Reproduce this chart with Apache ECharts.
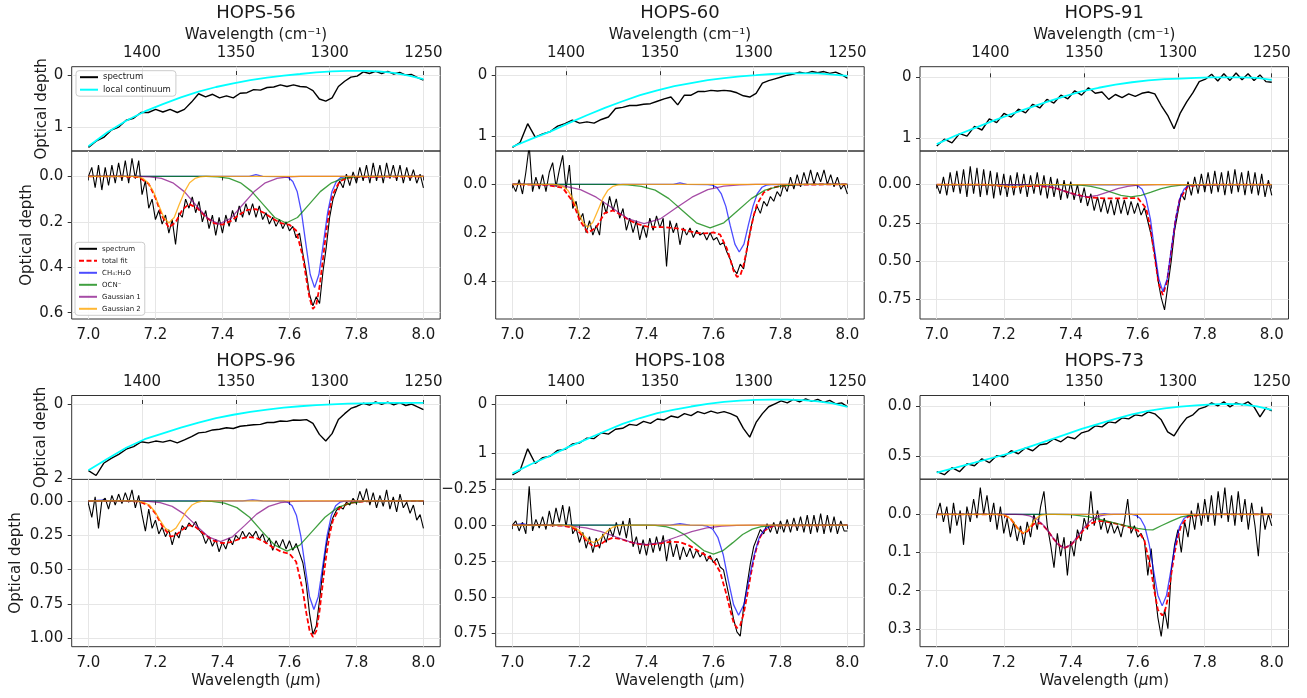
<!DOCTYPE html>
<html><head><meta charset="utf-8">
<script src="https://cdn.jsdelivr.net/npm/echarts@6/dist/echarts.min.js"></script>
<style>html,body{margin:0;padding:0;background:#fff}#c{width:1307px;height:698px}</style>
</head><body><div id="c"></div>
<script>
// ---------- x grids (micron) ----------
const wl = [7.00,7.01,7.02,7.03,7.04,7.05,7.06,7.07,7.08,7.09,
7.10,7.11,7.12,7.13,7.14,7.15,7.16,7.17,7.18,7.19,
7.20,7.21,7.22,7.23,7.24,7.25,7.26,7.27,7.28,7.29,
7.30,7.31,7.32,7.33,7.34,7.35,7.36,7.37,7.38,7.39,
7.40,7.41,7.42,7.43,7.44,7.45,7.46,7.47,7.48,7.49,
7.50,7.51,7.52,7.53,7.54,7.55,7.56,7.57,7.58,7.59,
7.60,7.61,7.62,7.63,7.64,7.65,7.66,7.67,7.68,7.69,
7.70,7.71,7.72,7.73,7.74,7.75,7.76,7.77,7.78,7.79,
7.80,7.81,7.82,7.83,7.84,7.85,7.86,7.87,7.88,7.89,
7.90,7.91,7.92,7.93,7.94,7.95,7.96,7.97,7.98,7.99,8.00];
const wlTop = [7.00,7.02,7.04,7.06,7.08,7.10,7.12,7.14,7.16,7.18,
7.20,7.22,7.24,7.26,7.28,7.30,7.32,7.34,7.36,7.38,
7.40,7.42,7.44,7.46,7.48,7.50,7.52,7.54,7.56,7.58,
7.60,7.62,7.64,7.66,7.68,7.70,7.72,7.74,7.76,7.78,
7.80,7.82,7.84,7.86,7.88,7.90,7.92,7.94,7.96,7.98,8.00];
const wlCont = [7.00,7.05,7.10,7.15,7.20,7.25,7.30,7.35,7.40,7.45,7.50,7.55,7.60,7.65,7.70,7.75,7.80,7.85,7.90,7.95,8.00];

// ---------- tick labels ----------
const cmTicks = [1250,1300,1350,1400];
const umTicks = [7.0,7.2,7.4,7.6,7.8,8.0];
const tk56Top=[0,1], tk56Bot=[0,0.2,0.4,0.6];
const tk60Top=[0,1], tk60Bot=[0,0.2,0.4];
const tk91Top=[0,1], tk91Bot=[0,0.25,0.5,0.75];
const tk96Top=[0,2], tk96Bot=[0,0.25,0.5,0.75,1.0];
const tk108Top=[0,1], tk108Bot=[-0.25,0,0.25,0.5,0.75];
const tk73Top=[0,0.5], tk73Bot=[0,0.1,0.2,0.3];

// ---------- HOPS-56 ----------
const p56_top = [1.39,1.27,1.20,1.06,1.00,0.87,0.83,0.72,0.72,0.66,
0.71,0.66,0.72,0.66,0.52,0.36,0.42,0.37,0.44,0.40,
0.44,0.35,0.34,0.28,0.29,0.24,0.23,0.19,0.22,0.19,
0.22,0.23,0.30,0.46,0.50,0.44,0.22,0.12,0.04,0.02,
-0.06,-0.03,-0.07,-0.03,-0.07,-0.02,-0.05,0.00,-0.01,0.05,0.10];
const p56_cont = [1.37,1.10,0.88,0.70,0.56,0.43,0.32,0.23,0.16,0.10,0.05,0.01,-0.02,-0.05,-0.07,-0.08,-0.08,-0.07,-0.04,0.01,0.08];
const p56_spec = [0.00,-0.04,0.05,-0.05,0.06,-0.04,0.04,-0.05,0.03,-0.06,
0.02,-0.07,0.03,-0.08,0.01,-0.07,0.08,0.02,0.14,0.10,
0.19,0.15,0.21,0.17,0.25,0.19,0.30,0.16,0.18,0.10,
0.14,0.09,0.16,0.11,0.20,0.15,0.23,0.17,0.26,0.18,
0.25,0.17,0.22,0.15,0.20,0.13,0.18,0.12,0.17,0.12,
0.18,0.13,0.19,0.16,0.21,0.18,0.22,0.19,0.23,0.20,
0.24,0.22,0.27,0.25,0.34,0.42,0.52,0.57,0.53,0.56,
0.42,0.31,0.18,0.10,0.06,0.02,0.05,-0.01,0.04,-0.02,
0.03,-0.04,0.02,-0.05,0.03,-0.06,0.02,-0.05,0.03,-0.06,
0.01,-0.05,0.02,-0.05,0.03,-0.04,0.02,-0.03,0.03,-0.01,0.05];
const p56_fit = [[7,0],[7.1,0],[7.15,0.003],[7.18,0.033],[7.2,0.094],[7.22,0.176],[7.24,0.225],[7.26,0.202],[7.28,0.148],[7.3,0.121],[7.325,0.14],[7.35,0.178],[7.375,0.206],[7.4,0.212],[7.425,0.196],[7.45,0.169],[7.475,0.147],[7.5,0.144],[7.525,0.161],[7.55,0.186],[7.575,0.206],[7.6,0.213],[7.62,0.238],[7.64,0.354],[7.65,0.448],[7.66,0.536],[7.67,0.584],[7.675,0.584],[7.68,0.566],[7.69,0.485],[7.7,0.364],[7.71,0.241],[7.72,0.142],[7.73,0.077],[7.75,0.021],[7.775,0.006],[7.8,0.002],[8,0]];
const p56_ch4 = [[7,0],[7.48,0],[7.5,-0.008],[7.52,0],[7.584,0.001],[7.597,0.005],[7.61,0.022],[7.623,0.066],[7.636,0.159],[7.649,0.297],[7.662,0.432],[7.675,0.49],[7.688,0.432],[7.701,0.297],[7.714,0.159],[7.727,0.066],[7.74,0.022],[7.753,0.005],[7.766,0.001],[8,0]];
const p56_ocn = [[7,0],[7.352,0],[7.386,0.002],[7.42,0.009],[7.454,0.028],[7.488,0.067],[7.522,0.124],[7.556,0.181],[7.59,0.205],[7.624,0.181],[7.658,0.124],[7.692,0.067],[7.726,0.028],[7.76,0.009],[7.794,0.002],[7.828,0],[8,0]];
const p56_g1 = [[7,0],[7.149,0],[7.183,0.002],[7.218,0.009],[7.252,0.028],[7.287,0.068],[7.321,0.127],[7.356,0.185],[7.39,0.21],[7.425,0.185],[7.459,0.127],[7.494,0.068],[7.528,0.028],[7.563,0.009],[7.597,0.002],[7.632,0],[8,0]];
const p56_g2 = [[7,0],[7.131,0],[7.147,0.002],[7.163,0.009],[7.178,0.028],[7.194,0.067],[7.209,0.124],[7.225,0.181],[7.24,0.205],[7.256,0.181],[7.271,0.124],[7.287,0.067],[7.302,0.028],[7.318,0.009],[7.333,0.002],[7.349,0],[8,0]];

// ---------- HOPS-60 ----------
const p60_top = [1.19,1.11,0.80,1.02,0.97,0.93,0.84,0.80,0.74,0.79,
0.77,0.79,0.73,0.69,0.55,0.53,0.50,0.50,0.48,0.47,
0.43,0.39,0.36,0.49,0.33,0.33,0.27,0.27,0.25,0.26,
0.25,0.26,0.29,0.34,0.36,0.30,0.13,0.09,0.06,0.03,
0.00,-0.02,-0.05,-0.03,-0.06,-0.04,-0.06,-0.03,-0.05,-0.01,0.05];
const p60_cont = [1.18,1.05,0.93,0.79,0.66,0.54,0.43,0.33,0.25,0.18,0.13,0.08,0.05,0.02,0.00,-0.02,-0.03,-0.03,-0.03,-0.01,0.01];
const p60_spec = [0.00,0.03,-0.02,0.04,-0.05,-0.16,0.03,-0.03,0.02,-0.04,
0.03,-0.05,-0.09,0.01,-0.06,-0.12,0.02,-0.08,0.10,0.07,
0.15,0.12,0.20,0.15,0.21,0.17,0.21,0.07,0.12,0.05,
0.11,0.06,0.14,0.10,0.19,0.14,0.20,0.15,0.23,0.17,
0.22,0.14,0.19,0.13,0.18,0.14,0.34,0.15,0.20,0.16,
0.25,0.18,0.21,0.18,0.22,0.19,0.21,0.20,0.23,0.20,
0.23,0.22,0.25,0.24,0.28,0.31,0.35,0.37,0.33,0.35,
0.27,0.19,0.13,0.09,0.12,0.07,0.09,0.05,0.07,0.03,
0.05,0.00,0.03,-0.03,0.02,-0.04,0.01,-0.05,0.00,-0.06,
0.00,-0.05,-0.01,-0.06,0.00,-0.04,0.01,-0.03,0.02,0.00,0.04];
const p60_fit = [[7,0],[7.1,0.002],[7.15,0.014],[7.18,0.071],[7.2,0.147],[7.225,0.2],[7.25,0.179],[7.275,0.119],[7.3,0.108],[7.325,0.127],[7.35,0.149],[7.375,0.165],[7.4,0.174],[7.425,0.177],[7.45,0.177],[7.475,0.18],[7.5,0.184],[7.525,0.193],[7.55,0.201],[7.575,0.203],[7.6,0.199],[7.62,0.208],[7.64,0.265],[7.65,0.31],[7.66,0.357],[7.67,0.383],[7.68,0.377],[7.69,0.334],[7.7,0.268],[7.71,0.195],[7.72,0.13],[7.73,0.083],[7.75,0.034],[7.775,0.014],[7.8,0.007],[7.85,0.001],[8,0]];
const p60_ch4 = [[7,0],[7.48,0],[7.5,-0.006],[7.52,0],[7.583,0.001],[7.596,0.003],[7.61,0.012],[7.623,0.038],[7.637,0.091],[7.65,0.17],[7.664,0.247],[7.677,0.28],[7.691,0.247],[7.704,0.17],[7.718,0.091],[7.731,0.038],[7.745,0.012],[7.758,0.003],[7.772,0.001],[8,0]];
const p60_ocn = [[7,0],[7.303,0],[7.344,0.002],[7.385,0.008],[7.426,0.024],[7.467,0.059],[7.508,0.109],[7.549,0.159],[7.59,0.18],[7.631,0.159],[7.672,0.109],[7.713,0.059],[7.754,0.024],[7.795,0.008],[7.836,0.002],[7.877,0],[8,0]];
const p60_g1 = [[7,0],[7.06,0],[7.108,0.002],[7.155,0.007],[7.203,0.022],[7.25,0.053],[7.298,0.098],[7.346,0.143],[7.393,0.162],[7.441,0.143],[7.488,0.098],[7.536,0.053],[7.583,0.022],[7.631,0.007],[7.678,0.002],[7.726,0],[8,0]];
const p60_g2 = [[7,0],[7.12,0],[7.135,0.002],[7.15,0.008],[7.165,0.024],[7.18,0.058],[7.195,0.108],[7.21,0.157],[7.225,0.178],[7.24,0.157],[7.255,0.108],[7.27,0.058],[7.285,0.024],[7.3,0.008],[7.315,0.002],[7.33,0],[8,0]];

// ---------- HOPS-91 ----------
const p91_top = [1.12,1.01,1.07,0.92,0.96,0.80,0.86,0.68,0.74,0.59,
0.65,0.52,0.58,0.44,0.50,0.36,0.42,0.29,0.35,0.22,
0.29,0.17,0.26,0.24,0.36,0.28,0.33,0.27,0.31,0.26,
0.24,0.27,0.46,0.62,0.84,0.58,0.40,0.25,0.07,0.03,
-0.05,0.06,-0.06,0.05,-0.07,0.04,-0.06,0.05,-0.04,0.07,0.08];
const p91_cont = [1.09,0.95,0.83,0.71,0.60,0.50,0.40,0.31,0.23,0.17,0.12,0.08,0.05,0.03,0.02,0.01,0.00,0.00,0.00,0.01,0.04];
const p91_spec = [0.00,0.06,-0.05,0.07,-0.08,0.05,-0.09,0.06,-0.10,0.08,
-0.12,0.06,-0.11,0.08,-0.10,0.07,-0.09,0.09,-0.08,0.07,
-0.07,0.08,-0.06,0.07,-0.08,0.06,-0.07,0.08,-0.06,0.06,
-0.08,0.07,-0.06,0.09,-0.05,0.08,-0.04,0.10,-0.03,0.09,
-0.02,0.10,0.00,0.12,0.02,0.14,0.06,0.17,0.08,0.18,
0.09,0.19,0.10,0.20,0.09,0.19,0.10,0.20,0.11,0.19,
0.12,0.20,0.15,0.24,0.33,0.45,0.62,0.74,0.82,0.66,
0.50,0.30,0.18,0.06,0.10,-0.02,0.07,-0.05,0.06,-0.07,
0.05,-0.08,0.06,-0.09,0.05,-0.08,0.07,-0.09,0.06,-0.10,
0.05,-0.08,0.07,-0.09,0.06,-0.08,0.07,-0.07,0.08,-0.03,0.07];
const p91_fit = [[7,0],[7.15,0.001],[7.2,0.01],[7.23,0.016],[7.26,0.011],[7.3,0.008],[7.35,0.02],[7.4,0.056],[7.45,0.082],[7.5,0.09],[7.55,0.09],[7.6,0.088],[7.625,0.155],[7.6375,0.278],[7.65,0.465],[7.6625,0.648],[7.675,0.723],[7.6875,0.633],[7.7,0.436],[7.7125,0.235],[7.725,0.099],[7.75,0.009],[7.8,0.001],[8,0]];
const p91_ch4 = [[7,0],[7.588,0.001],[7.6,0.008],[7.613,0.031],[7.625,0.095],[7.638,0.228],[7.65,0.425],[7.663,0.617],[7.675,0.7],[7.688,0.617],[7.7,0.425],[7.713,0.228],[7.725,0.095],[7.738,0.031],[7.75,0.008],[7.763,0.001],[8,0]];
const p91_ocn = [[7,0],[7.37,0],[7.4,0.001],[7.43,0.004],[7.46,0.011],[7.49,0.026],[7.52,0.049],[7.55,0.071],[7.58,0.08],[7.61,0.071],[7.64,0.049],[7.67,0.026],[7.7,0.011],[7.73,0.004],[7.76,0.001],[7.79,0],[8,0]];
const p91_g1 = [[7,0],[7.24,0],[7.27,0.001],[7.3,0.004],[7.33,0.011],[7.36,0.026],[7.39,0.049],[7.42,0.071],[7.45,0.08],[7.48,0.071],[7.51,0.049],[7.54,0.026],[7.57,0.011],[7.6,0.004],[7.63,0.001],[7.66,0],[8,0]];
const p91_g2 = [[7,0],[7.14,0],[7.155,0.001],[7.17,0.002],[7.185,0.005],[7.2,0.009],[7.215,0.013],[7.23,0.015],[7.245,0.013],[7.26,0.009],[7.275,0.005],[7.29,0.002],[7.305,0.001],[7.32,0],[8,0]];

// ---------- HOPS-96 ----------
const p96_top = [1.80,1.93,1.60,1.47,1.36,1.22,1.15,1.02,1.05,1.00,
1.03,0.98,1.05,0.97,0.88,0.78,0.76,0.70,0.68,0.64,
0.66,0.60,0.58,0.56,0.55,0.50,0.50,0.46,0.47,0.43,
0.44,0.42,0.52,0.82,1.00,0.80,0.42,0.26,0.12,0.06,
-0.02,0.03,-0.06,0.01,-0.05,0.02,-0.04,0.04,0.00,0.08,0.15];
const p96_cont = [1.79,1.48,1.18,0.95,0.79,0.64,0.50,0.38,0.29,0.21,0.15,0.10,0.06,0.03,0.01,-0.01,-0.02,-0.03,-0.03,-0.03,-0.03];
const p96_spec = [0.02,0.12,-0.03,0.20,0.00,-0.02,0.06,-0.04,0.03,-0.05,
0.02,-0.06,0.01,-0.08,0.05,-0.04,0.10,0.22,0.06,0.20,
0.14,0.24,0.19,0.26,0.21,0.32,0.23,0.27,0.18,0.21,
0.16,0.19,0.15,0.21,0.24,0.31,0.26,0.33,0.28,0.37,
0.30,0.35,0.27,0.32,0.25,0.28,0.22,0.27,0.23,0.26,
0.22,0.28,0.24,0.31,0.27,0.36,0.29,0.34,0.28,0.35,
0.29,0.36,0.31,0.38,0.45,0.60,0.82,0.97,0.91,0.72,
0.50,0.32,0.20,0.12,0.07,0.04,0.06,0.01,0.03,-0.02,
0.02,-0.07,0.00,-0.09,0.03,-0.06,0.05,-0.04,0.04,-0.08,
0.06,-0.03,0.08,-0.05,0.05,0.01,0.09,0.03,0.14,0.10,0.20];
const p96_fit = [[7,0],[7.1,0],[7.15,0.004],[7.18,0.033],[7.2,0.091],[7.22,0.182],[7.245,0.26],[7.26,0.252],[7.28,0.209],[7.3,0.177],[7.32,0.191],[7.35,0.25],[7.375,0.291],[7.4,0.308],[7.425,0.3],[7.45,0.278],[7.475,0.263],[7.5,0.269],[7.525,0.297],[7.55,0.338],[7.575,0.369],[7.6,0.384],[7.62,0.443],[7.64,0.653],[7.65,0.811],[7.66,0.942],[7.67,0.99],[7.675,0.985],[7.68,0.948],[7.69,0.798],[7.7,0.589],[7.71,0.396],[7.72,0.242],[7.73,0.14],[7.75,0.051],[7.775,0.019],[7.8,0.008],[7.85,0.001],[8,0]];
const p96_ch4 = [[7,0],[7.04,-0.006],[7.06,0],[7.46,0],[7.49,-0.008],[7.52,0],[7.582,0.002],[7.595,0.009],[7.608,0.035],[7.621,0.107],[7.634,0.257],[7.647,0.48],[7.66,0.697],[7.673,0.79],[7.686,0.697],[7.699,0.48],[7.712,0.257],[7.725,0.107],[7.738,0.035],[7.751,0.009],[7.764,0.002],[8,0]];
const p96_ocn = [[7,0],[7.331,0.001],[7.368,0.004],[7.406,0.016],[7.443,0.049],[7.481,0.119],[7.518,0.222],[7.556,0.322],[7.593,0.365],[7.631,0.322],[7.668,0.222],[7.706,0.119],[7.743,0.049],[7.781,0.016],[7.818,0.004],[7.856,0.001],[8,0]];
const p96_g1 = [[7,0],[7.142,0.001],[7.178,0.003],[7.214,0.013],[7.25,0.04],[7.286,0.096],[7.322,0.18],[7.358,0.261],[7.394,0.296],[7.43,0.261],[7.466,0.18],[7.502,0.096],[7.538,0.04],[7.574,0.013],[7.61,0.003],[7.646,0.001],[8,0]];
const p96_g2 = [[7,0],[7.133,0],[7.149,0.002],[7.165,0.01],[7.181,0.03],[7.197,0.073],[7.213,0.137],[7.229,0.198],[7.245,0.225],[7.261,0.198],[7.277,0.137],[7.293,0.073],[7.309,0.03],[7.325,0.01],[7.341,0.002],[7.357,0],[8,0]];

// ---------- HOPS-108 ----------
const p108_top = [1.45,1.36,0.92,1.22,1.10,1.07,0.95,0.93,0.82,0.80,
0.70,0.71,0.59,0.62,0.52,0.50,0.42,0.44,0.36,0.40,
0.31,0.33,0.25,0.28,0.20,0.24,0.16,0.20,0.15,0.19,
0.16,0.20,0.26,0.50,0.68,0.38,0.20,0.06,0.00,-0.06,
-0.02,-0.09,-0.04,-0.10,-0.05,-0.09,-0.03,-0.07,0.00,-0.02,0.06];
const p108_cont = [1.42,1.23,1.06,0.88,0.72,0.56,0.41,0.29,0.19,0.12,0.055,0.00,-0.04,-0.065,-0.08,-0.085,-0.085,-0.075,-0.05,-0.01,0.06];
const p108_spec = [0.00,-0.03,0.04,-0.02,0.06,-0.27,0.04,-0.04,0.02,-0.06,
0.03,-0.10,0.01,-0.12,-0.02,-0.14,0.01,-0.13,0.06,0.02,
0.12,0.05,0.16,0.08,0.19,0.09,0.16,0.06,0.12,0.02,
0.08,-0.02,0.07,-0.03,0.09,-0.05,0.15,0.08,0.20,0.10,
0.21,0.09,0.19,0.08,0.18,0.07,0.25,0.10,0.22,0.13,
0.24,0.15,0.22,0.16,0.23,0.17,0.22,0.19,0.25,0.21,
0.26,0.23,0.29,0.31,0.42,0.53,0.65,0.74,0.77,0.57,
0.42,0.27,0.15,0.09,0.03,0.06,-0.01,0.05,-0.02,0.06,
-0.03,0.05,-0.04,0.05,-0.05,0.04,-0.06,0.05,-0.07,0.06,
-0.07,0.05,-0.08,0.06,-0.07,0.05,-0.06,0.06,-0.03,0.04,0.04];
const p108_fit = [[7,0],[7.1,0],[7.15,0.003],[7.18,0.018],[7.2,0.05],[7.22,0.106],[7.242,0.149],[7.26,0.138],[7.28,0.104],[7.3,0.087],[7.325,0.097],[7.35,0.116],[7.375,0.13],[7.4,0.136],[7.425,0.132],[7.45,0.123],[7.475,0.114],[7.5,0.118],[7.525,0.138],[7.55,0.172],[7.575,0.206],[7.6,0.244],[7.62,0.325],[7.64,0.491],[7.65,0.588],[7.66,0.674],[7.67,0.713],[7.675,0.712],[7.68,0.694],[7.69,0.616],[7.7,0.495],[7.71,0.363],[7.72,0.241],[7.73,0.146],[7.74,0.08],[7.75,0.04],[7.775,0.007],[7.8,0.001],[8,0]];
const p108_ch4 = [[7,0],[7.03,-0.01],[7.05,0],[7.47,0],[7.5,-0.01],[7.53,0],[7.567,0.001],[7.582,0.007],[7.598,0.028],[7.613,0.084],[7.629,0.203],[7.644,0.379],[7.66,0.551],[7.675,0.625],[7.691,0.551],[7.706,0.379],[7.722,0.203],[7.737,0.084],[7.753,0.028],[7.768,0.007],[7.784,0.001],[8,0]];
const p108_ocn = [[7,0],[7.397,0],[7.426,0.002],[7.455,0.009],[7.484,0.027],[7.513,0.065],[7.542,0.121],[7.571,0.176],[7.6,0.2],[7.629,0.176],[7.658,0.121],[7.687,0.065],[7.716,0.027],[7.745,0.009],[7.774,0.002],[7.803,0],[8,0]];
const p108_g1 = [[7,0],[7.085,0],[7.13,0.001],[7.175,0.006],[7.22,0.018],[7.265,0.044],[7.31,0.082],[7.355,0.119],[7.4,0.135],[7.445,0.119],[7.49,0.082],[7.535,0.044],[7.58,0.018],[7.625,0.006],[7.67,0.001],[7.715,0],[8,0]];
const p108_g2 = [[7,0],[7.144,0],[7.158,0.001],[7.172,0.005],[7.186,0.016],[7.2,0.039],[7.214,0.073],[7.228,0.106],[7.242,0.12],[7.256,0.106],[7.27,0.073],[7.284,0.039],[7.298,0.016],[7.312,0.005],[7.326,0.001],[7.34,0],[8,0]];

// ---------- HOPS-73 ----------
const p73_top = [0.66,0.69,0.62,0.66,0.58,0.60,0.53,0.57,0.50,0.51,
0.45,0.48,0.42,0.45,0.39,0.38,0.33,0.36,0.31,0.33,
0.27,0.25,0.20,0.21,0.16,0.17,0.12,0.13,0.09,0.10,
0.06,0.08,0.14,0.26,0.30,0.20,0.12,0.09,0.03,0.01,
-0.03,0.00,-0.04,0.01,-0.03,-0.01,-0.04,0.01,0.11,0.02,0.05];
const p73_cont = [0.67,0.62,0.57,0.52,0.47,0.41,0.35,0.29,0.23,0.18,0.13,0.085,0.05,0.025,0.008,-0.005,-0.015,-0.02,-0.015,0.005,0.04];
const p73_spec = [0.00,-0.03,0.02,-0.02,0.05,-0.03,0.03,-0.01,0.08,-0.02,
0.02,-0.04,0.01,-0.07,0.00,-0.05,0.02,-0.03,0.04,-0.02,
0.05,0.01,0.06,0.02,0.07,0.03,0.08,0.02,0.06,0.00,
0.04,-0.02,-0.06,0.03,0.08,0.14,0.05,0.11,0.06,0.16,
0.07,0.11,0.04,0.07,0.01,0.04,-0.06,0.03,-0.01,0.04,
0.01,0.05,0.02,0.05,0.03,0.06,0.02,-0.04,0.05,0.03,
0.06,0.05,0.07,0.16,0.09,0.19,0.27,0.32,0.25,0.30,
0.15,0.08,0.04,0.10,0.02,0.06,-0.01,0.04,-0.03,0.03,
-0.04,0.02,-0.05,0.03,-0.06,0.01,-0.07,0.02,-0.05,0.03,
-0.06,0.02,-0.04,0.04,-0.03,0.03,0.11,-0.02,0.04,0.00,0.03];
const p73_fit = [[7,0],[7.18,0],[7.2,0.002],[7.22,0.011],[7.24,0.035],[7.258,0.05],[7.27,0.045],[7.29,0.025],[7.31,0.023],[7.33,0.041],[7.35,0.066],[7.37,0.084],[7.382,0.088],[7.4,0.081],[7.42,0.062],[7.44,0.039],[7.46,0.024],[7.48,0.018],[7.5,0.018],[7.55,0.027],[7.6,0.042],[7.62,0.069],[7.64,0.148],[7.65,0.203],[7.66,0.25],[7.673,0.265],[7.68,0.258],[7.69,0.219],[7.7,0.157],[7.71,0.101],[7.72,0.058],[7.73,0.029],[7.75,0.006],[7.8,0],[8,0]];
const p73_ch4 = [[7,0],[7.48,0],[7.5,-0.002],[7.52,0],[7.582,0],[7.595,0.003],[7.608,0.011],[7.621,0.032],[7.634,0.078],[7.647,0.146],[7.66,0.212],[7.673,0.24],[7.686,0.212],[7.699,0.146],[7.712,0.078],[7.725,0.032],[7.738,0.011],[7.751,0.003],[7.764,0],[8,0]];
const p73_ocn = [[7,0],[7.35,0],[7.4,0.001],[7.45,0.006],[7.5,0.016],[7.55,0.027],[7.6,0.037],[7.625,0.04],[7.645,0.041],[7.67,0.03],[7.7,0.018],[7.73,0.007],[7.76,0.002],[7.8,0],[8,0]];
const p73_g1 = [[7,0],[7.235,0],[7.256,0.001],[7.277,0.004],[7.298,0.012],[7.319,0.029],[7.34,0.053],[7.361,0.078],[7.382,0.088],[7.403,0.078],[7.424,0.053],[7.445,0.029],[7.466,0.012],[7.487,0.004],[7.508,0.001],[7.529,0],[8,0]];
const p73_g2 = [[7,0],[7.181,0],[7.192,0.001],[7.203,0.002],[7.214,0.007],[7.225,0.016],[7.236,0.03],[7.247,0.043],[7.258,0.049],[7.269,0.043],[7.28,0.03],[7.291,0.016],[7.302,0.007],[7.313,0.002],[7.324,0.001],[7.335,0],[8,0]];

// ---------- layout / style (not data) ----------
const F = 'DejaVu Sans';
const TXT = '#1a1a1a';
const colX = [71.7, 495.7, 920];
const PW = 368.5;
const rowY = [[66.7,151,319],[395.5,479.2,646.7]];
const panels = [
 {t:'HOPS-56', top:p56_top, cont:p56_cont, spec:p56_spec, fit:p56_fit, ch4:p56_ch4, ocn:p56_ocn, g1:p56_g1, g2:p56_g2, yt:[-0.16,1.46], tt:tk56Top, dt:0, yb:[-0.112,0.628], tb:tk56Bot, db:1},
 {t:'HOPS-60', top:p60_top, cont:p60_cont, spec:p60_spec, fit:p60_fit, ch4:p60_ch4, ocn:p60_ocn, g1:p60_g1, g2:p60_g2, yt:[-0.14,1.25], tt:tk60Top, dt:0, yb:[-0.138,0.557], tb:tk60Bot, db:1},
 {t:'HOPS-91', top:p91_top, cont:p91_cont, spec:p91_spec, fit:p91_fit, ch4:p91_ch4, ocn:p91_ocn, g1:p91_g1, g2:p91_g2, yt:[-0.174,1.203], tt:tk91Top, dt:0, yb:[-0.22,0.88], tb:tk91Bot, db:2},
 {t:'HOPS-96', top:p96_top, cont:p96_cont, spec:p96_spec, fit:p96_fit, ch4:p96_ch4, ocn:p96_ocn, g1:p96_g1, g2:p96_g2, yt:[-0.23,2.03], tt:tk96Top, dt:0, yb:[-0.158,1.061], tb:tk96Bot, db:2},
 {t:'HOPS-108', top:p108_top, cont:p108_cont, spec:p108_spec, fit:p108_fit, ch4:p108_ch4, ocn:p108_ocn, g1:p108_g1, g2:p108_g2, yt:[-0.17,1.54], tt:tk108Top, dt:0, yb:[-0.319,0.843], tb:tk108Bot, db:2},
 {t:'HOPS-73', top:p73_top, cont:p73_cont, spec:p73_spec, fit:p73_fit, ch4:p73_ch4, ocn:p73_ocn, g1:p73_g1, g2:p73_g2, yt:[-0.104,0.735], tt:tk73Top, dt:1, yb:[-0.092,0.347], tb:tk73Bot, db:1}
];
const fmt = d => v => (v < -1e-9 ? '\u2212' : '') + Math.abs(v).toFixed(d);
const toWavenumber = um => 1e4 / um; // micron -> cm^-1 (unit conversion)

const grid=[], xAxis=[], yAxis=[], series=[], title=[];
const tick = vals => ({show:true, length:4, customValues:vals, lineStyle:{color:'#333', width:1}});
const lab = (vals, margin, f) => ({customValues:vals, fontFamily:F, fontSize:15, color:TXT, margin:margin, formatter:f});
const split = {show:true, lineStyle:{color:'#e6e6e6', width:1}};
const nameStyle = {fontFamily:F, fontSize:15, color:TXT};
const base = {type:'line', symbol:'none', showSymbol:false, silent:true, animation:false, clip:true};

panels.forEach((p,i)=>{
  const c = i%3, r = Math.floor(i/3);
  const [y0,y1,y2] = rowY[r];
  const g = {left:colX[c], width:PW, show:true, borderColor:'#333', borderWidth:1, backgroundColor:'transparent', containLabel:false, outerBoundsMode:'none'};
  grid.push(Object.assign({}, g, {top:y0, height:y1-y0}));
  grid.push(Object.assign({}, g, {top:y1, height:y2-y1}));
  title.push({text:p.t, left:colX[c]+PW/2, top: r===0 ? 4 : 352.5, textAlign:'center', padding:0,
    textStyle:{fontFamily:F, fontSize:18, fontWeight:'normal', color:TXT}});
  const gt = 2*i, gb = 2*i+1;
  xAxis.push({type:'value', gridIndex:gt, position:'top', inverse:true, min:1241.07, max:1437.5,
    axisLine:{show:false}, axisTick:tick(cmTicks), axisLabel:lab(cmTicks, 6, v=>String(v)), splitLine:split,
    name: r===0 ? 'Wavelength (cm\u207B\u00B9)' : '', nameLocation:'middle', nameGap:24, nameTextStyle:nameStyle});
  xAxis.push({type:'value', gridIndex:gb, position:'bottom', min:6.95, max:8.05,
    axisLine:{show:false}, axisTick:tick(umTicks), axisLabel:lab(umTicks, 8.5, v=>v.toFixed(1)), splitLine:split,
    name: r===1 ? 'Wavelength ({it|\u03BC}m)' : '', nameLocation:'middle', nameGap:27,
    nameTextStyle:Object.assign({}, nameStyle, {rich:{it:{fontFamily:F, fontSize:15, color:TXT, fontStyle:'italic'}}})});
  yAxis.push({type:'value', gridIndex:gt, inverse:true, min:p.yt[0], max:p.yt[1],
    axisLine:{show:false}, axisTick:tick(p.tt), axisLabel:lab(p.tt, 8.5, fmt(p.dt)), splitLine:split,
    name: c===0 ? 'Optical depth' : '', nameLocation:'middle', nameGap: r===0 ? 22 : 23, nameTextStyle:nameStyle});
  yAxis.push({type:'value', gridIndex:gb, inverse:true, min:p.yb[0], max:p.yb[1],
    axisLine:{show:false}, axisTick:tick(p.tb), axisLabel:lab(p.tb, 8.5, fmt(p.db)), splitLine:split,
    name: c===0 ? 'Optical depth' : '', nameLocation:'middle', nameGap: r===0 ? 37.5 : 48, nameTextStyle:nameStyle});

  const add = (name, xi, data, color, width, type) => series.push(Object.assign({}, base, {
    name:name, xAxisIndex:xi, yAxisIndex:xi, data:data,
    lineStyle:{color:color, width:width, type:type||'solid'}, itemStyle:{color:color}}));
  add('spectrum', gt, wlTop.map((x,k)=>[toWavenumber(x), p.top[k]]), '#000000', 1.4);
  add('local continuum', gt, wlCont.map((x,k)=>[toWavenumber(x), p.cont[k]]), '#00ffff', 1.8);
  add('spectrum', gb, wl.map((x,k)=>[x, p.spec[k]]), '#000000', 1.1);
  add('total fit', gb, p.fit, '#ff0000', 1.8, [5,2.5]);
  add('CH\u2084:H\u2082O', gb, p.ch4, 'rgba(0,0,255,0.7)', 1.3);
  add('OCN\u207B', gb, p.ocn, 'rgba(0,128,0,0.75)', 1.3);
  add('Gaussian 1', gb, p.g1, 'rgba(128,0,128,0.7)', 1.3);
  add('Gaussian 2', gb, p.g2, 'rgba(255,165,0,0.8)', 1.3);
});

const legendBase = {orient:'vertical', selectedMode:false, backgroundColor:'rgba(255,255,255,0.85)',
  borderColor:'#cccccc', borderWidth:1, borderRadius:3, itemWidth:18,
  itemStyle:{opacity:0, color:'transparent', borderWidth:0}};
const legend = [
  Object.assign({}, legendBase, {data:['spectrum','local continuum'], left:76, top:70.7, itemHeight:8, itemGap:3.5,
    padding:[2,5,2,3], textStyle:{fontFamily:F, fontSize:8.5, color:TXT}}),
  Object.assign({}, legendBase, {data:['spectrum','total fit','CH\u2084:H\u2082O','OCN\u207B','Gaussian 1','Gaussian 2'],
    left:75, top:242.3, itemHeight:7, itemGap:5, padding:[3,4,3,3], textStyle:{fontFamily:F, fontSize:7, color:TXT}})
];

const chart = echarts.init(document.getElementById('c'), null, {renderer:'canvas'});
chart.setOption({animation:false, backgroundColor:'#ffffff', textStyle:{fontFamily:F},
  title:title, legend:legend, grid:grid, xAxis:xAxis, yAxis:yAxis, series:series});
</script>
</body></html>
